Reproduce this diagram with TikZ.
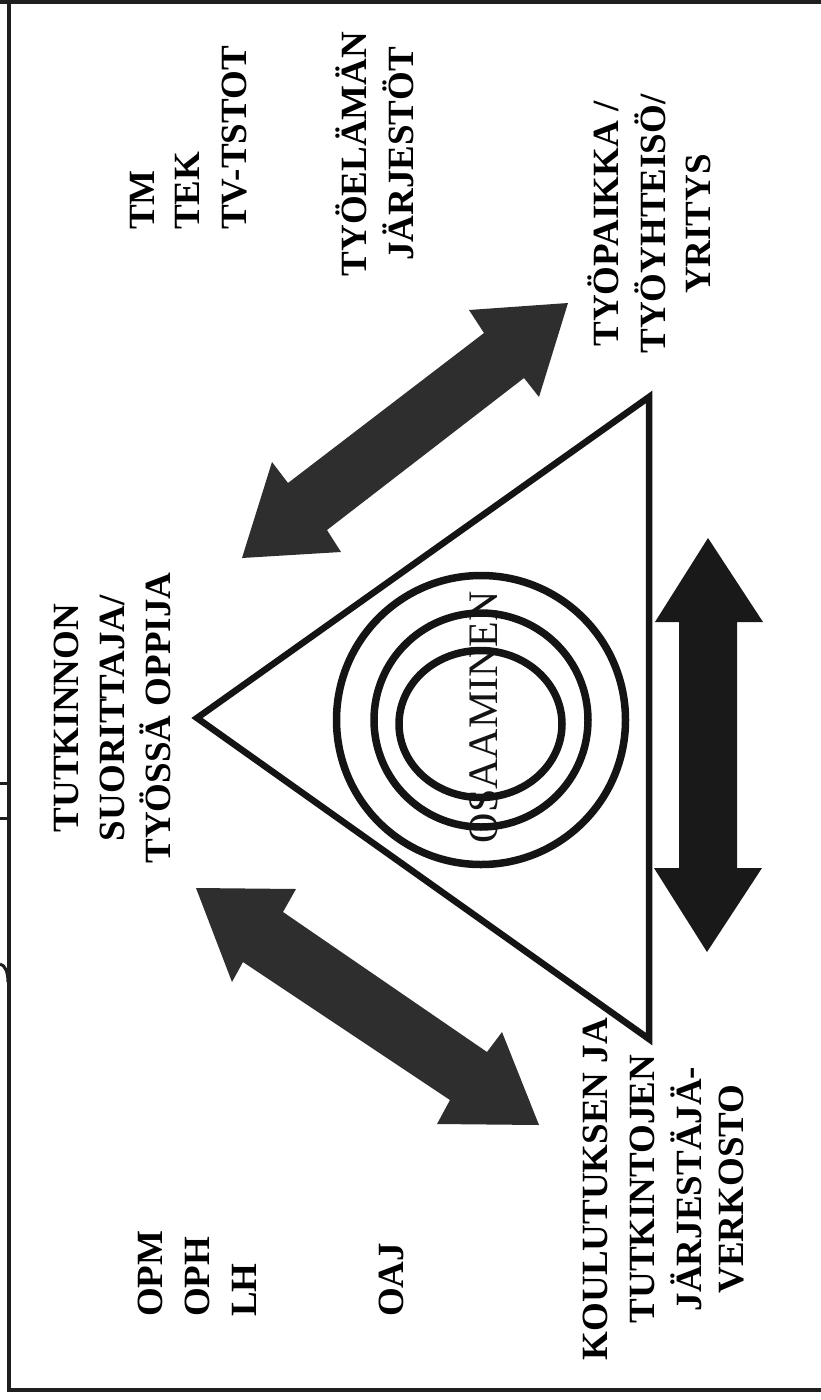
\documentclass[tikz,border=0pt]{standalone}
\usepackage{fontspec}
\setmainfont{Liberation Serif}
\begin{document}
\begin{tikzpicture}[x=1pt,y=-1pt,
  lbl/.style={font=\bfseries\fontsize{37}{46}\selectfont, rotate=90, inner sep=0pt, text=black},
  bigword/.style={font=\fontsize{42}{50}\selectfont, rotate=90, inner sep=0pt, text=black!92},
  ink/.style={draw=black!92, line width=6.5pt, line join=miter},
  ring/.style={draw=black!92, line width=7.5pt},
  darrow/.style={fill=black!82},
  varrow/.style={fill=black!90},
  frameline/.style={draw=black!88, line width=4pt},
  scrap/.style={draw=black!88, line width=3pt}
]
\useasboundingbox (0,0) rectangle (821,1400);
\fill[white] (0,0) rectangle (821,1400);

% frame
\draw[frameline] (0,1.8) -- (821,1.8);
\draw[frameline] (9,0) -- (9,1390) -- (821,1390);
% fragments at the left edge
\draw[scrap] (0,783) -- (9,783);
\draw[scrap] (0,818) -- (9,818);
\draw[scrap] (0,964) .. controls (5,965) and (8,972) .. (8,982);

% triangle
\coordinate (apex) at (197,718);
\coordinate (topv) at (649,397);
\coordinate (botv) at (649,1039);
\draw[ink] (apex) -- (topv) -- (botv) -- cycle;

% rings
\coordinate (c) at (481,720);
\draw[ring] (c) circle[radius=144.5];
\draw[ring] (c) circle[radius=107];
\draw[ring] (480.5,724) ellipse[x radius=81.5, y radius=73.5];
\node[bigword, anchor=base] (osa) at (497,717) {OSAAMINEN};

% upper diagonal double arrow
\fill[darrow] (568,303) -- (539,397) -- (524,378) -- (327,530) -- (341,552)
  -- (242,558) -- (272,462) -- (288,483) -- (484,333) -- (469,310) -- cycle;
% lower diagonal double arrow
\fill[darrow] (196,888) -- (296,889) -- (283,912) -- (487,1052) -- (502,1032)
  -- (539,1125) -- (437,1124) -- (450,1100) -- (243,962) -- (232,982) -- cycle;
% vertical double arrow
\fill[varrow] (708,538) -- (763,622) -- (737,622) -- (737,868) -- (762,868)
  -- (707,952) -- (654,868) -- (679,868) -- (679,622) -- (655,622) -- cycle;

% labels
\node[lbl, anchor=base west] (tm) at (154,230) {TM};
\node[lbl, anchor=base west] (tek) at (199,230) {TEK};
\node[lbl, anchor=base west] (tv) at (246,230) {TV-TSTOT};
\node[lbl, anchor=base] (te1) at (366,154) {TYÖELÄMÄN};
\node[lbl, anchor=base] (te2) at (413,154) {JÄRJESTÖT};
\node[lbl, anchor=base] (tp1) at (618,224) {TYÖPAIKKA /};
\node[lbl, anchor=base] (tp2) at (665,224) {TYÖYHTEISÖ/};
\node[lbl, anchor=base] (tp3) at (710,224) {YRITYS};
\node[lbl, anchor=base] (tu1) at (78,718) {TUTKINNON};
\node[lbl, anchor=base] (tu2) at (124,718) {SUORITTAJA/};
\node[lbl, anchor=base] (tu3) at (170,718) {TYÖSSÄ OPPIJA};
\node[lbl, anchor=base west] (opm) at (162,1317) {OPM};
\node[lbl, anchor=base west] (oph) at (209,1317) {OPH};
\node[lbl, anchor=base west] (lh) at (256,1317) {LH};
\node[lbl, anchor=base west] (oaj) at (403,1317) {OAJ};
\node[lbl, anchor=base] (ko1) at (607,1189) {KOULUTUKSEN JA};
\node[lbl, anchor=base] (ko2) at (654,1189) {TUTKINTOJEN};
\node[lbl, anchor=base] (ko3) at (701,1189) {JÄRJESTÄJÄ-};
\node[lbl, anchor=base] (ko4) at (743,1189) {VERKOSTO};
\end{tikzpicture}
\end{document}
